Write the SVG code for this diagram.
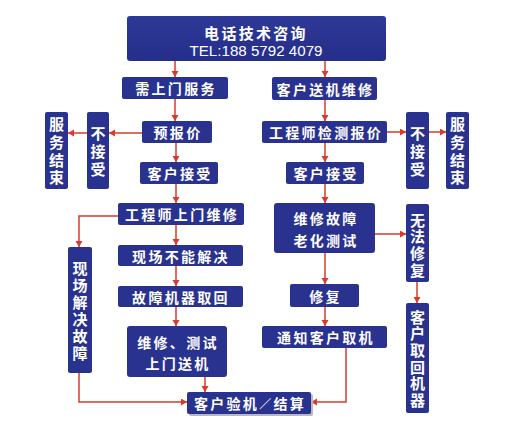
<svg xmlns="http://www.w3.org/2000/svg" width="516" height="434" viewBox="0 0 516 434">
<defs>
<marker id="ah" markerUnits="userSpaceOnUse" markerWidth="8" markerHeight="8" refX="6" refY="3.5" orient="auto">
<path d="M0,0 L6,3.5 L0,7 Z" fill="#d93a2b"/>
</marker>
<linearGradient id="topg" x1="0" y1="0" x2="0" y2="1">
<stop offset="0" stop-color="#2e3896"/>
<stop offset="1" stop-color="#252f8a"/>
</linearGradient>
</defs>
<style>
.b{fill:#29328e;}
.t{fill:#fff;font-family:"Noto Sans CJK SC","Noto Sans",sans-serif;font-weight:bold;font-size:14px;letter-spacing:2.3px;text-anchor:middle;dominant-baseline:central;}
.v{fill:#fff;font-family:"Noto Sans CJK SC","Noto Sans",sans-serif;font-weight:bold;font-size:15px;text-anchor:middle;writing-mode:vertical-rl;}
.c{fill:none;stroke:#d93a2b;stroke-width:1.5;marker-end:url(#ah);}
</style>
<rect width="516" height="434" fill="#fff"/>

<g id="connectors">
<path class="c" d="M175,61 V77"/>
<path class="c" d="M325,61 V77"/>
<path class="c" d="M175,99 V121"/>
<path class="c" d="M142,133 H109"/>
<path class="c" d="M87,133 H68"/>
<path class="c" d="M176,143 V162"/>
<path class="c" d="M176,184 V203"/>
<path class="c" d="M118,216 H79 V247"/>
<path class="c" d="M176,225 V245"/>
<path class="c" d="M176,266 V286"/>
<path class="c" d="M176,307 V326"/>
<path class="c" d="M205,377 V392"/>
<path class="c" d="M79,373 V402 H187"/>
<path class="c" d="M325,100 V121"/>
<path class="c" d="M387,132 H406"/>
<path class="c" d="M429,132 H446"/>
<path class="c" d="M325,143 V162"/>
<path class="c" d="M325,184 V203"/>
<path class="c" d="M375,234 H406"/>
<path class="c" d="M417,282 V303"/>
<path class="c" d="M325,253 V284"/>
<path class="c" d="M325,307 V326"/>
<path class="c" d="M346,348 V402 H311"/>
</g>

<g id="n-top">
<rect x="127" y="16" width="259" height="45" rx="3" fill="url(#topg)"/>
<text class="t" x="256" y="32" style="font-size:15px">电话技术咨询</text>
<text x="256" y="50" fill="#fff" font-family="'Liberation Sans',sans-serif" font-size="15" text-anchor="middle" dominant-baseline="central" textLength="133" lengthAdjust="spacingAndGlyphs">TEL:188 5792 4079</text>
</g>

<g id="n-onsite">
<rect class="b" x="122" y="77" width="106" height="22" rx="2"/>
<text class="t" x="176" y="88">需上门服务</text>
</g>
<g id="n-quote">
<rect class="b" x="142" y="121" width="70" height="22" rx="2"/>
<text class="t" x="178" y="132">预报价</text>
</g>
<g id="n-reject-l">
<rect class="b" x="87" y="112" width="22" height="77" rx="2"/>
<text class="v" x="98" y="152.5" style="letter-spacing:3px">不接受</text>
</g>
<g id="n-end-l">
<rect class="b" x="45" y="112" width="23" height="77" rx="2"/>
<text class="v" x="56.5" y="152.5" style="letter-spacing:2.7px">服务结束</text>
</g>
<g id="n-accept-l">
<rect class="b" x="140" y="162" width="78" height="22" rx="2"/>
<text class="t" x="180" y="173">客户接受</text>
</g>
<g id="n-eng-visit">
<rect class="b" x="118" y="203" width="126" height="22" rx="2"/>
<text class="t" x="182" y="214">工程师上门维修</text>
</g>
<g id="n-fixed-site">
<rect class="b" x="68" y="247" width="24" height="126" rx="2"/>
<text class="v" x="80" y="311.5" style="letter-spacing:2px">现场解决故障</text>
</g>
<g id="n-cannot">
<rect class="b" x="118" y="245" width="125" height="21" rx="2"/>
<text class="t" x="181" y="255.5">现场不能解决</text>
</g>
<g id="n-retrieve">
<rect class="b" x="118" y="286" width="125" height="21" rx="2"/>
<text class="t" x="181" y="296.5">故障机器取回</text>
</g>
<g id="n-repair-deliver">
<rect class="b" x="127" y="326" width="100" height="51" rx="3"/>
<text class="t" x="178" y="342">维修、测试</text>
<text class="t" x="178" y="363">上门送机</text>
</g>
<g id="n-check">
<rect x="189" y="394" width="124" height="22" rx="2" fill="#b8b8c0"/>
<rect class="b" x="187" y="392" width="124" height="22" rx="2"/>
<text class="t" x="250" y="403">客户验机<tspan font-weight="normal" font-size="12">／</tspan>结算</text>
</g>

<g id="n-sendin">
<rect class="b" x="272" y="77" width="105" height="23" rx="2"/>
<text class="t" x="325.5" y="88.5">客户送机维修</text>
</g>
<g id="n-inspect">
<rect class="b" x="262" y="121" width="125" height="22" rx="2"/>
<text class="t" x="326" y="132">工程师检测报价</text>
</g>
<g id="n-reject-r">
<rect class="b" x="406" y="112" width="23" height="77" rx="2"/>
<text class="v" x="417.5" y="152.5" style="letter-spacing:3px">不接受</text>
</g>
<g id="n-end-r">
<rect class="b" x="446" y="112" width="23" height="77" rx="2"/>
<text class="v" x="457.5" y="152.5" style="letter-spacing:2.7px">服务结束</text>
</g>
<g id="n-accept-r">
<rect class="b" x="286" y="162" width="78" height="22" rx="2"/>
<text class="t" x="326" y="173">客户接受</text>
</g>
<g id="n-repair-test">
<rect class="b" x="274" y="203" width="101" height="50" rx="3"/>
<text class="t" x="326" y="218">维修故障</text>
<text class="t" x="326" y="240">老化测试</text>
</g>
<g id="n-unfixable">
<rect class="b" x="406" y="204" width="23" height="78" rx="2"/>
<text class="v" x="417.5" y="246" style="letter-spacing:1.7px">无法修复</text>
</g>
<g id="n-pickup-broken">
<rect class="b" x="406" y="303" width="23" height="110" rx="2"/>
<text class="v" x="417.5" y="359.5" style="letter-spacing:1.6px">客户取回机器</text>
</g>
<g id="n-fixed">
<rect class="b" x="290" y="284" width="69" height="23" rx="2"/>
<text class="t" x="325.5" y="295.5">修复</text>
</g>
<g id="n-notify">
<rect class="b" x="262" y="326" width="125" height="22" rx="2"/>
<text class="t" x="326" y="337">通知客户取机</text>
</g>
</svg>
